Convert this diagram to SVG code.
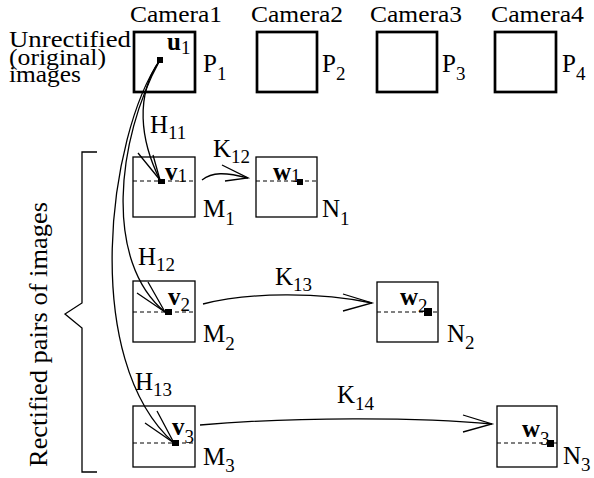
<svg xmlns="http://www.w3.org/2000/svg" width="594" height="478" viewBox="0 0 594 478" font-family="Liberation Serif, Times New Roman, serif">
<style>
text{font-family:'Liberation Serif','Times New Roman',serif;fill:#000}
.t{font-size:25px}
.cl{font-size:24px}
.b{font-size:25px;font-weight:bold}
.s{font-size:19px;font-weight:normal}
.cam{fill:none;stroke:#000;stroke-width:2.7}
.box{fill:#fff;stroke:#000;stroke-width:1.3}
.dash{stroke:#000;stroke-width:1;stroke-dasharray:4,3}
.pt{fill:#000}
.c{fill:none;stroke:#000;stroke-width:1.3}
.ah{fill:none;stroke:#000;stroke-width:1.3;stroke-linejoin:miter}
</style>
<rect width="594" height="478" fill="#fff"/>

<g id="labels-left">
<text class="cl" x="9" y="47" textLength="122" lengthAdjust="spacingAndGlyphs">Unrectified</text>
<text class="cl" x="9" y="64.5" textLength="97" lengthAdjust="spacingAndGlyphs">(original)</text>
<text class="cl" x="9" y="82" textLength="72" lengthAdjust="spacingAndGlyphs">images</text>
</g>

<g id="camera1">
<text class="cl" x="130" y="21.5" textLength="92" lengthAdjust="spacingAndGlyphs">Camera1</text>
<rect class="cam" x="134" y="32" width="61" height="60"/>
<text class="t" x="203" y="72">P<tspan class="s" dy="8">1</tspan></text>
<rect class="pt" x="157" y="57" width="6" height="6"/>
<text class="b" x="167" y="50">u<tspan class="s" dy="4">1</tspan></text>
</g>
<g id="camera2">
<text class="cl" x="251" y="21.5" textLength="92" lengthAdjust="spacingAndGlyphs">Camera2</text>
<rect class="cam" x="257" y="32" width="60" height="60"/>
<text class="t" x="322" y="72">P<tspan class="s" dy="8">2</tspan></text>
</g>
<g id="camera3">
<text class="cl" x="370" y="21.5" textLength="92" lengthAdjust="spacingAndGlyphs">Camera3</text>
<rect class="cam" x="377" y="32" width="60" height="60"/>
<text class="t" x="442" y="72">P<tspan class="s" dy="8">3</tspan></text>
</g>
<g id="camera4">
<text class="cl" x="491" y="21.5" textLength="93" lengthAdjust="spacingAndGlyphs">Camera4</text>
<rect class="cam" x="495" y="32" width="61" height="60"/>
<text class="t" x="562" y="72">P<tspan class="s" dy="8">4</tspan></text>
</g>

<g id="bracket">
<path class="c" d="M97,152 H82 V303 L65,314 L82,328 V472 H97"/>
<text class="t" transform="translate(47,467) rotate(-90)" x="0" y="0" font-size="26" textLength="265" lengthAdjust="spacingAndGlyphs">Rectified pairs of images</text>
</g>

<g id="M1">
<rect class="box" x="133" y="157" width="62" height="60"/>
<line class="dash" x1="133" y1="181" x2="195" y2="181"/>
<rect class="pt" x="158" y="179" width="7" height="5"/>
<text class="b" x="165" y="180">v<tspan class="s" dy="2">1</tspan></text>
<text class="t" x="203" y="217">M<tspan class="s" dy="8">1</tspan></text>
</g>
<g id="N1">
<rect class="box" x="256" y="157" width="61" height="60"/>
<line class="dash" x1="256" y1="181" x2="317" y2="181"/>
<text class="b" x="273" y="180">w<tspan class="s" dy="2">1</tspan></text>
<rect class="pt" x="297" y="179" width="6" height="6"/>
<text class="t" x="322" y="217">N<tspan class="s" dy="8">1</tspan></text>
</g>
<g id="M2">
<rect class="box" x="133" y="281" width="62" height="61"/>
<line class="dash" x1="133" y1="312" x2="195" y2="312"/>
<rect class="pt" x="165" y="309" width="7" height="6"/>
<text class="b" x="168" y="305">v<tspan class="s" dy="6">2</tspan></text>
<text class="t" x="203" y="342">M<tspan class="s" dy="8">2</tspan></text>
</g>
<g id="N2">
<rect class="box" x="377" y="282" width="61" height="60"/>
<line class="dash" x1="377" y1="312" x2="438" y2="312"/>
<text class="b" x="400" y="305">w<tspan class="s" dy="7">2</tspan></text>
<rect class="pt" x="424" y="308" width="8" height="8"/>
<text class="t" x="447" y="342">N<tspan class="s" dy="7">2</tspan></text>
</g>
<g id="M3">
<rect class="box" x="133" y="406" width="62" height="61"/>
<line class="dash" x1="133" y1="443" x2="195" y2="443"/>
<rect class="pt" x="172" y="440" width="7" height="6"/>
<text class="b" x="172" y="435">v<tspan class="s" dy="8">3</tspan></text>
<text class="t" x="203" y="465">M<tspan class="s" dy="7">3</tspan></text>
</g>
<g id="N3">
<rect class="box" x="497" y="406" width="60" height="61"/>
<line class="dash" x1="497" y1="443" x2="557" y2="443"/>
<text class="b" x="522" y="437">w<tspan class="s" dy="8">3</tspan></text>
<rect class="pt" x="547" y="440" width="7" height="7"/>
<text class="t" x="563" y="464">N<tspan class="s" dy="7">3</tspan></text>
</g>

<g id="connectors">
<path class="c" d="M160,60 C135,95 140,140 160,180"/>
<polyline class="ah" points="138,153 160,180 153,155"/>
<text class="t" x="150" y="133">H<tspan class="s" dy="6">11</tspan></text>

<path class="c" d="M160,60 C116,140 104,262 165,312"/>
<polyline class="ah" points="137,293 165,312 148,282"/>
<text class="t" x="138" y="265">H<tspan class="s" dy="6">12</tspan></text>

<path class="c" d="M160,60 C108,135 80,360 174,443"/>
<polyline class="ah" points="145,423 174,443 157,411"/>
<text class="t" x="135" y="390">H<tspan class="s" dy="6">13</tspan></text>

<path class="c" d="M202,180 C212,172 225,172 248,178"/>
<polyline class="ah" points="222,165 248,178 225,181"/>
<text class="t" x="213" y="157">K<tspan class="s" dy="6">12</tspan></text>

<path class="c" d="M203,304 C250,292 320,292 372,303"/>
<polyline class="ah" points="343,294 372,303 343,311"/>
<text class="t" x="275" y="285">K<tspan class="s" dy="6">13</tspan></text>

<path class="c" d="M200,425 C290,417 420,417 492,424"/>
<polyline class="ah" points="463,415 492,424 463,432"/>
<text class="t" x="337" y="403">K<tspan class="s" dy="7">14</tspan></text>
</g>
</svg>
